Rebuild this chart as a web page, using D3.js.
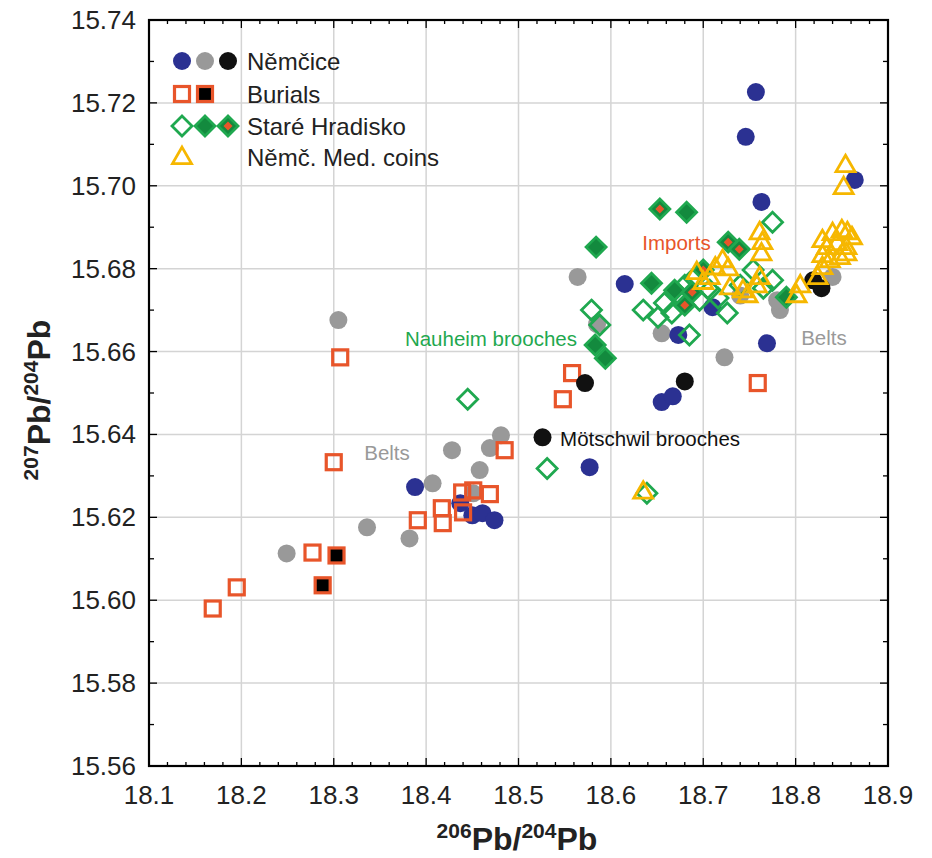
<!DOCTYPE html>
<html>
<head>
<script src="https://cdn.jsdelivr.net/npm/d3@7"></script>
<style>
  body { margin: 0; background: #fff; }
  svg text { font-family: "Liberation Sans", Arial, sans-serif; }
</style>
</head>
<body>
<div id="vis"></div>
<script>
// ---- data (206Pb/204Pb, 207Pb/204Pb) ----
const xTicks = [18.1, 18.2, 18.3, 18.4, 18.5, 18.6, 18.7, 18.8, 18.9];
const yTicks = [15.56, 15.58, 15.60, 15.62, 15.64, 15.66, 15.68, 15.70, 15.72, 15.74];

const nemciceGray = [
  [18.305, 15.6676], [18.428, 15.6362], [18.481, 15.6398], [18.469, 15.6367],
  [18.458, 15.6314], [18.407, 15.6282], [18.451, 15.6258], [18.336, 15.6176],
  [18.382, 15.6149], [18.249, 15.6113], [18.655, 15.6644], [18.723, 15.6586],
  [18.783, 15.6700], [18.780, 15.6724], [18.840, 15.6780], [18.564, 15.6780],
  [18.585, 15.6666], [18.740, 15.6735]
];
const nemciceBlue = [
  [18.757, 15.7226], [18.746, 15.7118], [18.763, 15.6961], [18.864, 15.7014],
  [18.615, 15.6763], [18.673, 15.6640], [18.710, 15.6707], [18.769, 15.6620],
  [18.655, 15.6478], [18.667, 15.6492], [18.577, 15.6321], [18.388, 15.6273],
  [18.437, 15.6234], [18.450, 15.6205], [18.461, 15.6210], [18.474, 15.6193]
];
const nemciceBlack = [
  [18.572, 15.6524], [18.680, 15.6528], [18.526, 15.6393],
  [18.819, 15.6772], [18.828, 15.6753]
];
const burialsOpen = [
  [18.169, 15.5980], [18.195, 15.6031], [18.277, 15.6115], [18.300, 15.6333],
  [18.307, 15.6586], [18.391, 15.6193], [18.417, 15.6222], [18.418, 15.6186],
  [18.439, 15.6260], [18.451, 15.6265], [18.469, 15.6256], [18.440, 15.6212],
  [18.485, 15.6362], [18.558, 15.6548], [18.548, 15.6485], [18.759, 15.6524]
];
const burialsBlack = [[18.303, 15.6108], [18.288, 15.6036]];

const hradiskoOpen = [
  [18.445, 15.6485], [18.531, 15.6318], [18.639, 15.6258], [18.588, 15.6664],
  [18.579, 15.6700], [18.685, 15.6640], [18.775, 15.6912], [18.635, 15.6700],
  [18.651, 15.6683], [18.658, 15.6717], [18.666, 15.6693], [18.672, 15.6741],
  [18.680, 15.6760], [18.690, 15.6777], [18.707, 15.6748], [18.716, 15.6729],
  [18.726, 15.6693], [18.754, 15.6797], [18.775, 15.6772], [18.765, 15.6753],
  [18.740, 15.6760], [18.696, 15.6724]
];
const hradiskoFilled = [
  [18.682, 15.6936], [18.584, 15.6852], [18.583, 15.6616], [18.594, 15.6584],
  [18.644, 15.6765], [18.790, 15.6731], [18.669, 15.6748]
];
const hradiskoImports = [
  [18.653, 15.6944], [18.727, 15.6864], [18.739, 15.6847], [18.700, 15.6797],
  [18.680, 15.6712], [18.688, 15.6743]
];
const medCoins = [
  [18.635, 15.6262], [18.854, 15.7050], [18.852, 15.6997],
  [18.761, 15.6888], [18.764, 15.6864], [18.763, 15.6837],
  [18.707, 15.6780], [18.721, 15.6821], [18.727, 15.6801], [18.713, 15.6803],
  [18.729, 15.6755], [18.743, 15.6748], [18.748, 15.6736], [18.761, 15.6780],
  [18.758, 15.6760], [18.805, 15.6760], [18.801, 15.6736], [18.824, 15.6780],
  [18.829, 15.6804], [18.837, 15.6821], [18.829, 15.6869], [18.840, 15.6886],
  [18.850, 15.6893], [18.856, 15.6888], [18.861, 15.6876], [18.834, 15.6852],
  [18.845, 15.6862], [18.855, 15.6852], [18.848, 15.6828], [18.829, 15.6833],
  [18.855, 15.6837], [18.693, 15.6792], [18.700, 15.6768]
];

const notes = [
  {text: "Imports", x: 18.634, y: 15.6862, color: "#e8552a"},
  {text: "Nauheim brooches", x: 18.377, y: 15.6630, color: "#1fa84f"},
  {text: "Mötschwil brooches", x: 18.545, y: 15.6389, color: "#111"},
  {text: "Belts", x: 18.333, y: 15.6355, color: "#999"},
  {text: "Belts", x: 18.806, y: 15.6632, color: "#999"}
];

const legendRows = ["Němčice", "Burials", "Staré Hradisko", "Němč. Med. coins"];

// ---- colours ----
const cBlue = "#2b3192", cGray = "#999999", cBlack = "#111111";
const cOrange = "#e8552a", cGreen = "#1fa84f", cDkGreen = "#138a3e", cYellow = "#f6b700";

const W = 932, H = 858;
const svg = d3.select("#vis").append("svg").attr("width", W).attr("height", H);

const x = d3.scaleLinear().domain([18.1, 18.9]).range([149, 888]);
const y = d3.scaleLinear().domain([15.56, 15.74]).range([766, 20]);

// grid
svg.append("g").selectAll("line").data(xTicks.slice(1, -1)).join("line")
  .attr("x1", d => x(d)).attr("x2", d => x(d)).attr("y1", y(15.56)).attr("y2", y(15.74))
  .attr("stroke", "#d4d4d4").attr("stroke-width", 1.5);
svg.append("g").selectAll("line").data(yTicks.slice(1, -1)).join("line")
  .attr("y1", d => y(d)).attr("y2", d => y(d)).attr("x1", x(18.1)).attr("x2", x(18.9))
  .attr("stroke", "#d4d4d4").attr("stroke-width", 1.5);

// inward ticks on all four sides
const xMinor = d3.range(0, 41).map(i => 18.1 + i * 0.02);
const yMinor = d3.range(0, 19).map(i => 15.56 + i * 0.01);
const tk = svg.append("g").attr("stroke", "#000").attr("stroke-width", 1.3);
xMinor.forEach((v, i) => {
  const len = i % 5 === 0 ? 8 : 4;
  tk.append("line").attr("x1", x(v)).attr("x2", x(v)).attr("y1", y(15.56)).attr("y2", y(15.56) - len);
  tk.append("line").attr("x1", x(v)).attr("x2", x(v)).attr("y1", y(15.74)).attr("y2", y(15.74) + len);
});
yMinor.forEach((v, i) => {
  const len = i % 2 === 0 ? 8 : 5;
  tk.append("line").attr("y1", y(v)).attr("y2", y(v)).attr("x1", x(18.1)).attr("x2", x(18.1) + len);
  tk.append("line").attr("y1", y(v)).attr("y2", y(v)).attr("x1", x(18.9)).attr("x2", x(18.9) - len);
});

// frame
svg.append("rect").attr("x", x(18.1)).attr("y", y(15.74))
  .attr("width", x(18.9) - x(18.1)).attr("height", y(15.56) - y(15.74))
  .attr("fill", "none").attr("stroke", "#000").attr("stroke-width", 2.2);

// tick labels
svg.append("g").selectAll("text").data(xTicks).join("text")
  .attr("x", d => x(d)).attr("y", 804).attr("text-anchor", "middle")
  .attr("font-size", 26).attr("fill", "#222").text(d => d.toFixed(1));
svg.append("g").selectAll("text").data(yTicks).join("text")
  .attr("x", 136).attr("y", d => y(d) + 9).attr("text-anchor", "end")
  .attr("font-size", 26).attr("fill", "#222").text(d => d.toFixed(2));

// axis titles
const xt = svg.append("text").attr("x", 517).attr("y", 850).attr("text-anchor", "middle")
  .attr("font-weight", "bold").attr("font-size", 32).attr("fill", "#222");
xt.append("tspan").attr("font-size", 21).attr("dy", -12).text("206");
xt.append("tspan").attr("dy", 12).text("Pb/");
xt.append("tspan").attr("font-size", 21).attr("dy", -12).text("204");
xt.append("tspan").attr("dy", 12).text("Pb");

const yt = svg.append("text").attr("transform", "translate(50,400) rotate(-90)")
  .attr("text-anchor", "middle").attr("font-weight", "bold").attr("font-size", 32).attr("fill", "#222");
yt.append("tspan").attr("font-size", 21).attr("dy", -12).text("207");
yt.append("tspan").attr("dy", 12).text("Pb/");
yt.append("tspan").attr("font-size", 21).attr("dy", -12).text("204");
yt.append("tspan").attr("dy", 12).text("Pb");

// ---- marker helpers ----
const R = 9;
function diamondPath(cx, cy, r) {
  return `M${cx},${cy - r}L${cx + r},${cy}L${cx},${cy + r}L${cx - r},${cy}Z`;
}
function trianglePath(cx, cy, s) {
  const h = s * 0.866;
  return `M${cx},${cy - h * 0.6}L${cx + s / 2},${cy + h * 0.4}L${cx - s / 2},${cy + h * 0.4}Z`;
}
function circles(g, data, fill, px, py) {
  g.selectAll(null).data(data).join("circle")
    .attr("cx", d => px(d)).attr("cy", d => py(d)).attr("r", R).attr("fill", fill);
}
function squares(g, data, fill, px, py) {
  g.selectAll(null).data(data).join("rect")
    .attr("x", d => px(d) - 7.5).attr("y", d => py(d) - 7.5).attr("width", 15).attr("height", 15)
    .attr("fill", fill).attr("stroke", cOrange).attr("stroke-width", 3.2);
}
function diamonds(g, data, fill, px, py, dot) {
  g.selectAll(null).data(data).join("path")
    .attr("d", d => diamondPath(px(d), py(d), 10)).attr("fill", fill)
    .attr("stroke", cGreen).attr("stroke-width", 2.8).attr("stroke-linejoin", "miter");
  if (dot) {
    g.selectAll(null).data(data).join("path")
      .attr("d", d => diamondPath(px(d), py(d), 4.5)).attr("fill", cOrange);
  }
}
function triangles(g, data, px, py) {
  g.selectAll(null).data(data).join("path")
    .attr("d", d => trianglePath(px(d), py(d), 19)).attr("fill", "none")
    .attr("stroke", cYellow).attr("stroke-width", 2.8).attr("stroke-linejoin", "miter");
}

const px = d => x(d[0]), py = d => y(d[1]);
const marks = svg.append("g");
circles(marks.append("g"), nemciceGray, cGray, px, py);
circles(marks.append("g"), nemciceBlue, cBlue, px, py);
squares(marks.append("g"), burialsOpen, "none", px, py);
squares(marks.append("g"), burialsBlack, "#000", px, py);
circles(marks.append("g"), nemciceBlack, cBlack, px, py);
diamonds(marks.append("g"), hradiskoOpen, "none", px, py, false);
diamonds(marks.append("g"), hradiskoFilled, cDkGreen, px, py, false);
diamonds(marks.append("g"), hradiskoImports, cDkGreen, px, py, true);
triangles(marks.append("g"), medCoins, px, py);

// annotations
svg.append("g").selectAll("text").data(notes).join("text")
  .attr("x", d => x(d.x)).attr("y", d => y(d.y) + 7).attr("font-size", 20.5)
  .attr("fill", d => d.color).text(d => d.text);

// legend (pixel positions)
const lg = svg.append("g");
const lx = [182, 205, 228], ly = [61, 94, 126, 157];
circles(lg.append("g"), [lx[0]], cBlue, d => d, () => ly[0]);
circles(lg.append("g"), [lx[1]], cGray, d => d, () => ly[0]);
circles(lg.append("g"), [lx[2]], cBlack, d => d, () => ly[0]);
squares(lg.append("g"), [lx[0]], "none", d => d, () => ly[1]);
squares(lg.append("g"), [lx[1]], "#000", d => d, () => ly[1]);
diamonds(lg.append("g"), [lx[0]], "none", d => d, () => ly[2], false);
diamonds(lg.append("g"), [lx[1]], cDkGreen, d => d, () => ly[2], false);
diamonds(lg.append("g"), [lx[2]], cDkGreen, d => d, () => ly[2], true);
triangles(lg.append("g"), [lx[0]], d => d, () => ly[3]);
lg.selectAll("text").data(legendRows).join("text")
  .attr("x", 247).attr("y", (d, i) => ly[i] + 8.5).attr("font-size", 24).attr("fill", "#222")
  .text(d => d);
</script>
</body>
</html>
